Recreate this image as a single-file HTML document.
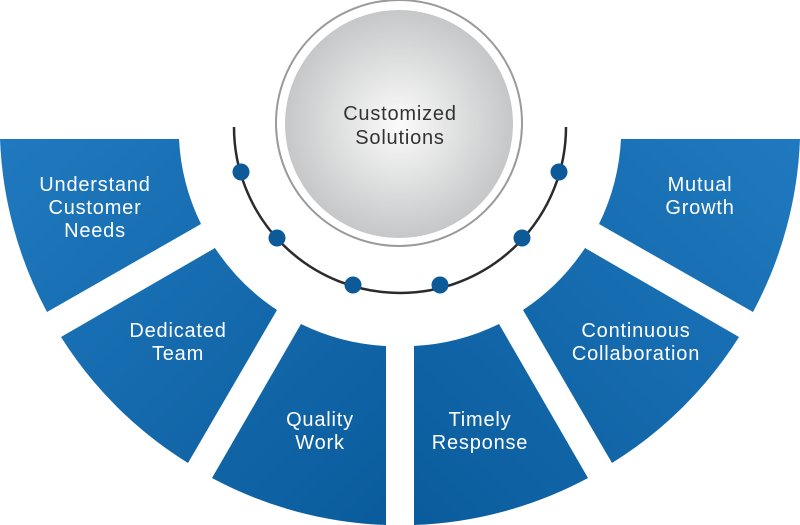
<!DOCTYPE html>
<html><head><meta charset="utf-8"><style>
html,body{margin:0;padding:0;background:#fff;}
svg{display:block;}
text{font-family:"Liberation Sans",sans-serif;font-size:20px;letter-spacing:0.8px;fill:#fff;text-anchor:middle;}
</style></head><body>
<svg width="800" height="525" viewBox="0 0 800 525" xmlns="http://www.w3.org/2000/svg">
<defs>
<linearGradient id="bl" gradientUnits="userSpaceOnUse" x1="0" y1="139" x2="380" y2="525">
<stop offset="0" stop-color="#2079bf"/><stop offset="1" stop-color="#0a5c9c"/>
</linearGradient>
<radialGradient id="gr" cx="0.5" cy="0.5" r="0.5">
<stop offset="0" stop-color="#fbfbfb"/><stop offset="1" stop-color="#c6c7c8"/>
</radialGradient>
</defs>
<g id="L" fill="url(#bl)">
<path d="M0,139 L179,139 A218,218 0 0 0 201,224 L47,312 A398,398 0 0 1 0,139 Z"/>
<path d="M215,248 A218,218 0 0 0 277,310 L188,463 A398,398 0 0 1 61,337 Z"/>
<path d="M301,324 A218,218 0 0 0 386,346 L386,525 A398,398 0 0 1 212,478 Z"/>
</g>
<g transform="translate(800,0) scale(-1,1)" fill="url(#bl)">
<path d="M0,139 L179,139 A218,218 0 0 0 201,224 L47,312 A398,398 0 0 1 0,139 Z"/>
<path d="M215,248 A218,218 0 0 0 277,310 L188,463 A398,398 0 0 1 61,337 Z"/>
<path d="M301,324 A218,218 0 0 0 386,346 L386,525 A398,398 0 0 1 212,478 Z"/>
</g>
<path d="M234,127 A166,166 0 0 0 566,127" fill="none" stroke="#2b2b2b" stroke-width="2.5"/>
<g fill="#0d5a98">
<circle cx="241" cy="172" r="8.5"/><circle cx="277" cy="238" r="8.5"/><circle cx="353" cy="285" r="8.5"/>
<circle cx="440" cy="285" r="8.5"/><circle cx="522" cy="238" r="8.5"/><circle cx="559" cy="172" r="8.5"/>
</g>
<circle cx="399" cy="123" r="123" fill="#fff" stroke="#9a9a9a" stroke-width="2"/>
<circle cx="399" cy="124" r="114" fill="url(#gr)"/>
<text x="400" y="120" style="fill:#333">Customized</text>
<text x="400" y="144" style="fill:#333">Solutions</text>
<text x="95" y="191">Understand</text><text x="95" y="214">Customer</text><text x="95" y="237">Needs</text>
<text x="178" y="337">Dedicated</text><text x="178" y="360">Team</text>
<text x="320" y="426">Quality</text><text x="320" y="449">Work</text>
<text x="480" y="426">Timely</text><text x="480" y="449">Response</text>
<text x="636" y="337">Continuous</text><text x="636" y="360">Collaboration</text>
<text x="700" y="191">Mutual</text><text x="700" y="214">Growth</text>
</svg>
</body></html>
